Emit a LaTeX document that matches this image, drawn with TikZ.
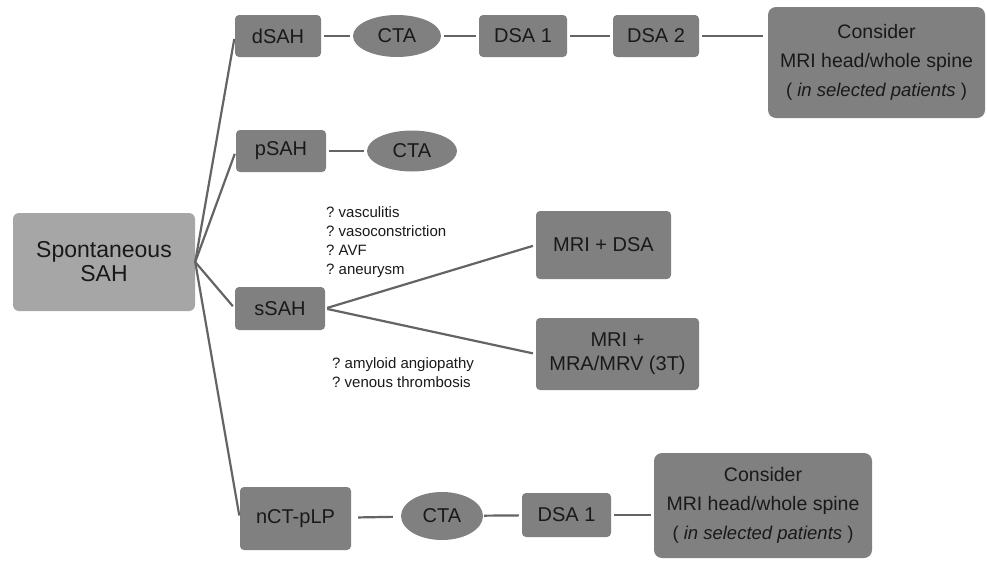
\documentclass[tikz,border=0pt]{standalone}
\usepackage{fontspec}
\setmainfont{Liberation Sans}
\usetikzlibrary{shapes.geometric}

\definecolor{boxgray}{RGB}{128,128,128}
\definecolor{rootgray}{RGB}{166,166,166}
\definecolor{linegray}{RGB}{100,100,100}
\definecolor{textgray}{RGB}{25,25,25}

\begin{document}
\begin{tikzpicture}[x=1pt,y=-1pt,
  box/.style={fill=boxgray,rounded corners=4pt,inner sep=0pt,text=textgray,align=center,font=\fontsize{20}{24}\selectfont},
  oval/.style={ellipse,fill=boxgray,inner sep=0pt,text=textgray,font=\fontsize{20}{24}\selectfont},
  bigbox/.style={box,rounded corners=8pt,font=\fontsize{19.5}{29}\selectfont},
  note/.style={anchor=west,align=left,inner sep=0pt,text=textgray,font=\fontsize{15}{19}\selectfont\frenchspacing},
  link/.style={draw=linegray,line width=2.2pt,shorten <=3pt,shorten >=3pt}]

\useasboundingbox (0,0) rectangle (987,560);

% Root
\node[box,fill=rootgray,rounded corners=6pt,minimum width=182pt,minimum height=98pt,font=\fontsize{23}{24}\selectfont] (spont-sah) at (104,262) {Spontaneous\\SAH};

% dSAH branch
\node[box,minimum width=86pt,minimum height=42pt] (dsah) at (278,36) {dSAH};
\node[oval,minimum width=88pt,minimum height=42pt] (dsah-cta) at (397,36) {CTA};
\node[box,minimum width=88pt,minimum height=42pt] (dsah-dsa1) at (523,36) {DSA 1};
\node[box,minimum width=86pt,minimum height=42pt] (dsah-dsa2) at (656,36) {DSA 2};
\node[bigbox,minimum width=217pt,minimum height=111pt] (dsah-mri) at (876.5,62.5) {Consider\\MRI head/whole spine\\{\fontsize{18.5}{29}\selectfont( \textit{in selected patients} )}};

% pSAH branch
\node[box,minimum width=90pt,minimum height=42pt] (psah) at (281,151) {pSAH};
\node[oval,minimum width=90pt,minimum height=41pt] (psah-cta) at (412,151) {CTA};

% sSAH branch
\node[box,minimum width=90pt,minimum height=43pt] (ssah) at (280,308.5) {sSAH};
\node[box,minimum width=135pt,minimum height=68pt] (ssah-dsa) at (603.5,245) {MRI + DSA};
\node[box,minimum width=163pt,minimum height=72pt] (ssah-mra) at (617.5,354) {MRI +\\MRA/MRV (3T)};
\node[note] (ssah-upper) at (326,242.5) {? vasculitis\\? vasoconstriction\\? AVF\\? aneurysm};
\node[note] (ssah-lower) at (332,372.5) {? amyloid angiopathy\\? venous thrombosis};

% nCT-pLP branch
\node[box,minimum width=111pt,minimum height=63pt] (nct-plp) at (295.5,518.5) {nCT-pLP};
\node[oval,minimum width=82pt,minimum height=48pt] (nct-cta) at (442,516) {CTA};
\node[box,minimum width=89pt,minimum height=44pt] (nct-dsa1) at (566.5,515) {DSA 1};
\node[bigbox,minimum width=218pt,minimum height=105pt] (nct-mri) at (763,505.5) {Consider\\MRI head/whole spine\\{\fontsize{18.5}{29}\selectfont( \textit{in selected patients} )}};

% Fan from the root
\draw[link,shorten <=0pt] (spont-sah.east) -- (dsah.west);
\draw[link,shorten <=0pt] (spont-sah.east) -- (psah.west);
\draw[link,shorten <=0pt] (spont-sah.east) -- (ssah.west);
\draw[link,shorten <=0pt] (spont-sah.east) -- (nct-plp.west);

% Chains
\draw[link] (dsah) -- (dsah-cta);
\draw[link] (dsah-cta) -- (dsah-dsa1);
\draw[link] (dsah-dsa1) -- (dsah-dsa2);
\draw[link,shorten >=5pt] (dsah-dsa2) -- (dsah-dsa2 -| dsah-mri.west);
\draw[link] (psah) -- (psah-cta);
\draw[link,shorten <=2pt] (ssah.east) -- (ssah-dsa.west);
\draw[link,shorten <=2pt] (ssah.east) -- (ssah-mra.west);
\draw[link,shorten <=7pt,shorten >=8pt] (nct-plp) -- (nct-cta);
\draw[link,shorten <=1pt] (nct-cta) -- (nct-dsa1);
\draw[link] (nct-dsa1) -- (nct-dsa1 -| nct-mri.west);

\end{tikzpicture}
\end{document}
